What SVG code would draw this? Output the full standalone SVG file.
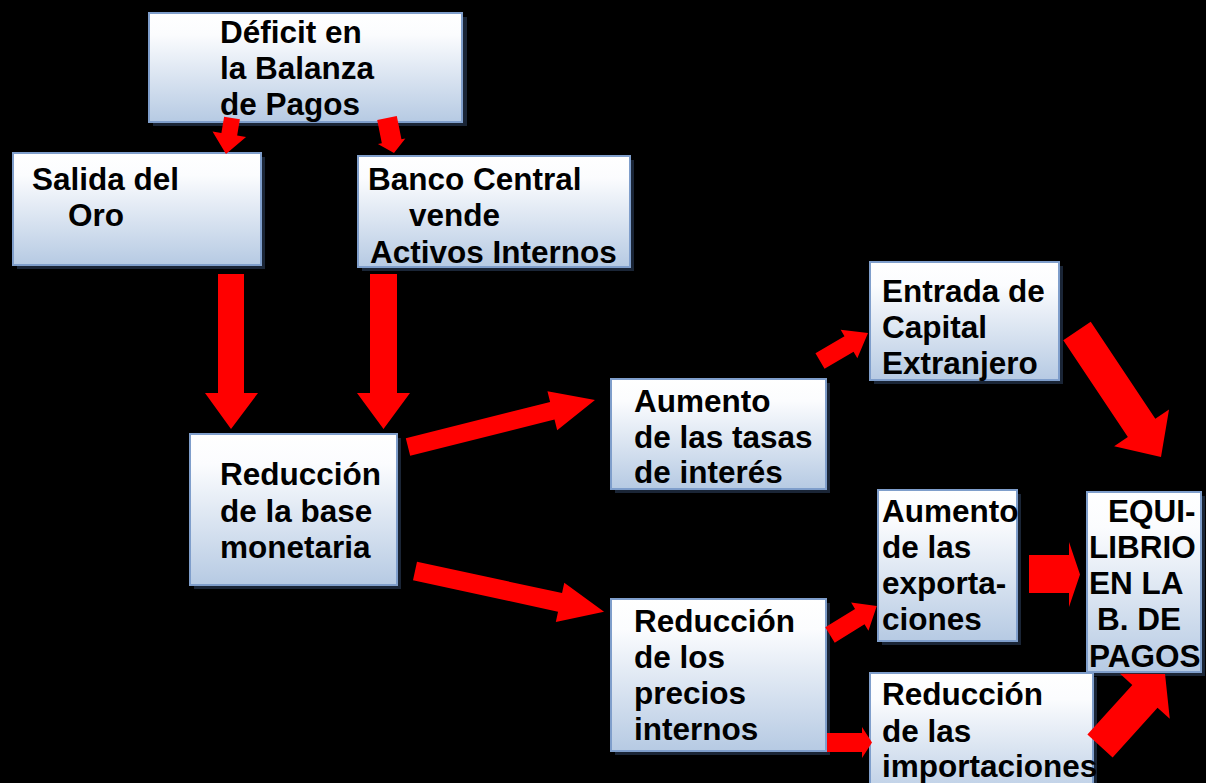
<svg xmlns="http://www.w3.org/2000/svg" width="1206" height="783" viewBox="0 0 1206 783">
<defs>
<linearGradient id="g" x1="0" y1="0" x2="0" y2="1">
<stop offset="0" stop-color="#ffffff"/>
<stop offset="0.2" stop-color="#fbfcfe"/>
<stop offset="1" stop-color="#b6cae3"/>
</linearGradient>
<style>
.sh{fill:#1a2536}
.bx{fill:url(#g);stroke:#7f9ecb;stroke-width:2}
.t{font-family:"Liberation Sans",Arial,sans-serif;font-weight:bold;font-size:31.5px;fill:#000}
.ar{fill:#ff0000}
</style>
</defs>
<rect width="1206" height="783" fill="#000"/>
<g id="n-deficit">
<rect class="sh" x="153" y="17" width="314" height="109"/>
<rect class="bx" x="149" y="13" width="313" height="109"/>
<text class="t"><tspan x="220" y="43">Déficit en</tspan><tspan x="220" y="79">la Balanza</tspan><tspan x="220" y="115">de Pagos</tspan></text>
</g>
<g id="n-salida">
<rect class="sh" x="17" y="157" width="248" height="112"/>
<rect class="bx" x="13" y="153" width="248" height="112"/>
<text class="t"><tspan x="32" y="190">Salida del</tspan><tspan x="68" y="226">Oro</tspan></text>
</g>
<g id="n-banco">
<rect class="sh" x="362" y="160" width="272" height="111"/>
<rect class="bx" x="358" y="156" width="272" height="111"/>
<text class="t"><tspan x="368" y="190">Banco Central</tspan><tspan x="409" y="226">vende</tspan><tspan x="370" y="263">Activos Internos</tspan></text>
</g>
<g id="n-base">
<rect class="sh" x="194" y="438" width="207" height="151"/>
<rect class="bx" x="190" y="434" width="207" height="151"/>
<text class="t"><tspan x="220" y="485">Reducción</tspan><tspan x="220" y="522">de la base</tspan><tspan x="220" y="558">monetaria</tspan></text>
</g>
<g id="n-tasas">
<rect class="sh" x="615" y="383" width="215" height="110"/>
<rect class="bx" x="611" y="379" width="215" height="110"/>
<text class="t"><tspan x="634" y="412">Aumento</tspan><tspan x="634" y="448">de las tasas</tspan><tspan x="634" y="483">de interés</tspan></text>
</g>
<g id="n-entrada">
<rect class="sh" x="874" y="266" width="189" height="118"/>
<rect class="bx" x="870" y="262" width="189" height="118"/>
<text class="t"><tspan x="882" y="302">Entrada de</tspan><tspan x="882" y="338">Capital</tspan><tspan x="882" y="374">Extranjero</tspan></text>
</g>
<g id="n-precios">
<rect class="sh" x="615" y="603" width="215" height="152"/>
<rect class="bx" x="611" y="599" width="215" height="152"/>
<text class="t"><tspan x="634" y="632">Reducción</tspan><tspan x="634" y="668">de los</tspan><tspan x="634" y="704">precios</tspan><tspan x="634" y="740">internos</tspan></text>
</g>
<g id="n-export">
<rect class="sh" x="882" y="494" width="139" height="151"/>
<rect class="bx" x="878" y="490" width="139" height="151"/>
<text class="t"><tspan x="882" y="522">Aumento</tspan><tspan x="882" y="558">de las</tspan><tspan x="882" y="594">exporta-</tspan><tspan x="882" y="630">ciones</tspan></text>
</g>
<g id="n-equi">
<rect class="sh" x="1091" y="496" width="114" height="180"/>
<rect class="bx" x="1087" y="492" width="114" height="180"/>
<text class="t"><tspan x="1108" y="522">EQUI-</tspan><tspan x="1089" y="558">LIBRIO</tspan><tspan x="1089" y="594">EN LA</tspan><tspan x="1097" y="630">B. DE</tspan><tspan x="1089" y="667">PAGOS</tspan></text>
</g>
<g id="n-import">
<rect class="sh" x="874" y="677" width="223" height="130"/>
<rect class="bx" x="870" y="673" width="223" height="130"/>
<text class="t"><tspan x="882" y="705">Reducción</tspan><tspan x="882" y="742">de las</tspan><tspan x="882" y="777">importaciones</tspan></text>
</g>
<g id="connectors">
<polygon class="ar" transform="translate(232,118) rotate(99.5)" points="0,-8 16.5,-8 16.5,-17 36.5,0 16.5,17 16.5,8 0,8"/>
<polygon class="ar" transform="translate(387,118) rotate(78.7)" points="0,-10 23.7,-10 23.7,-14 35.7,0 23.7,14 23.7,10 0,10"/>
<polygon class="ar" points="218,274 244,274 244,393 258,393 231,429 205,393 218,393"/>
<polygon class="ar" points="370,274 397,274 397,393 410,393 383.5,429 357,393 370,393"/>
<polygon class="ar" transform="translate(408,447) rotate(-14.1)" points="0,-9 148.8,-9 148.8,-20 192.8,0 148.8,20 148.8,9 0,9"/>
<polygon class="ar" transform="translate(415,571) rotate(12.2)" points="0,-9.5 148.4,-9.5 148.4,-20 193.4,0 148.4,20 148.4,9.5 0,9.5"/>
<polygon class="ar" transform="translate(820,361) rotate(-30.3)" points="0,-9 33.6,-9 33.6,-16.5 55.6,0 33.6,16.5 33.6,9 0,9"/>
<polygon class="ar" transform="translate(1077,331) rotate(56.3)" points="0,-16.5 116.4,-16.5 116.4,-33 151.4,0 116.4,33 116.4,16.5 0,16.5"/>
<polygon class="ar" transform="translate(830,635) rotate(-31.7)" points="0,-9 35,-9 35,-16.5 55,0 35,16.5 35,9 0,9"/>
<polygon class="ar" points="1029,555 1069,555 1069,542 1080,574.5 1069,607 1069,593 1029,593"/>
<polygon class="ar" points="827,733 862,733 862,727 872,742.5 862,758 862,752 827,752"/>
<polygon class="ar" transform="translate(1100,746) rotate(-47.9)" points="0,-17 67,-17 67,-33.5 97,0 67,33.5 67,17 0,17"/>
</g>
</svg>
